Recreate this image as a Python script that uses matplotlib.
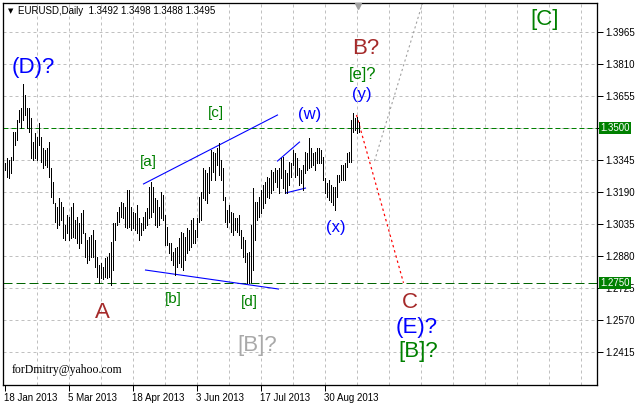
import matplotlib
matplotlib.use('Agg')
import matplotlib.pyplot as plt
import matplotlib.transforms as mtransforms

plt.rcParams['font.family'] = ['Liberation Sans', 'DejaVu Sans']

# ------------------------------------------------------------------
# EURUSD daily bars, 18 Jan 2013 .. 24 Sep 2013
# ------------------------------------------------------------------
highs = [
    1.3330, 1.3355, 1.3345, 1.3360, 1.3481, 1.3481, 1.3539, 1.3587, 1.3597, 1.3713,
    1.3660, 1.3597, 1.3597, 1.3548, 1.3432, 1.3476, 1.3456, 1.3524, 1.3456, 1.3403,
    1.3393, 1.3403, 1.3432, 1.3306, 1.3238, 1.3137, 1.3117, 1.3161, 1.3142, 1.3117,
    1.3030, 1.3079, 1.3069, 1.3117, 1.3137, 1.3054, 1.3069, 1.3040, 1.3088, 1.3103,
    1.2991, 1.2957, 1.2972, 1.2982, 1.3006, 1.2957, 1.2875, 1.2836, 1.2846, 1.2827,
    1.2870, 1.2875, 1.2894, 1.2948, 1.3040, 1.3040, 1.3093, 1.3117, 1.3142, 1.3137,
    1.3117, 1.3200, 1.3200, 1.3117, 1.3093, 1.3088, 1.3127, 1.3064, 1.3040, 1.3069,
    1.3093, 1.3112, 1.3214, 1.3238, 1.3214, 1.3161, 1.3151, 1.3117, 1.3190, 1.3175,
    1.3079, 1.3020, 1.2943, 1.2943, 1.2899, 1.2919, 1.2924, 1.2967, 1.2996, 1.2991,
    1.2972, 1.3016, 1.3006, 1.3054, 1.3064, 1.3006, 1.3064, 1.3166, 1.3190, 1.3306,
    1.3297, 1.3282, 1.3311, 1.3393, 1.3384, 1.3379, 1.3403, 1.3427, 1.3345, 1.3306,
    1.3166, 1.3103, 1.3127, 1.3093, 1.3088, 1.3064, 1.3064, 1.3079, 1.3006, 1.2972,
    1.2957, 1.2894, 1.2899, 1.3030, 1.3209, 1.3142, 1.3142, 1.3166, 1.3200, 1.3224,
    1.3238, 1.3263, 1.3258, 1.3297, 1.3287, 1.3306, 1.3297, 1.3306, 1.3355, 1.3360,
    1.3297, 1.3282, 1.3335, 1.3330, 1.3393, 1.3379, 1.3355, 1.3306, 1.3297, 1.3321,
    1.3384, 1.3379, 1.3452, 1.3403, 1.3379, 1.3384, 1.3403, 1.3403, 1.3393, 1.3360,
    1.3258, 1.3234, 1.3248, 1.3224, 1.3214, 1.3214, 1.3272, 1.3272, 1.3321, 1.3321,
    1.3330, 1.3379, 1.3384, 1.3539, 1.3573, 1.3548, 1.3553, 1.3529,
]
lows = [
    1.3297, 1.3263, 1.3258, 1.3282, 1.3345, 1.3418, 1.3442, 1.3529, 1.3500, 1.3539,
    1.3563, 1.3500, 1.3481, 1.3355, 1.3345, 1.3355, 1.3345, 1.3418, 1.3335, 1.3306,
    1.3321, 1.3311, 1.3263, 1.3166, 1.3137, 1.3045, 1.3016, 1.3030, 1.3054, 1.2967,
    1.2957, 1.2991, 1.2957, 1.2967, 1.2972, 1.2967, 1.2943, 1.2919, 1.2943, 1.2991,
    1.2875, 1.2846, 1.2861, 1.2875, 1.2875, 1.2827, 1.2778, 1.2749, 1.2773, 1.2769,
    1.2778, 1.2773, 1.2778, 1.2740, 1.2812, 1.2957, 1.3030, 1.3045, 1.3069, 1.3064,
    1.3020, 1.3016, 1.3020, 1.3006, 1.3016, 1.3006, 1.2991, 1.2957, 1.2982, 1.3006,
    1.3016, 1.3030, 1.3064, 1.3069, 1.3093, 1.3030, 1.3020, 1.3030, 1.3064, 1.3054,
    1.2933, 1.2933, 1.2894, 1.2861, 1.2836, 1.2788, 1.2827, 1.2846, 1.2827, 1.2812,
    1.2861, 1.2894, 1.2909, 1.2924, 1.2943, 1.2943, 1.2972, 1.3045, 1.3054, 1.3161,
    1.3151, 1.3137, 1.3185, 1.3248, 1.3287, 1.3248, 1.3321, 1.3272, 1.3248, 1.3151,
    1.3045, 1.3020, 1.3045, 1.2996, 1.2982, 1.3006, 1.2996, 1.2982, 1.2919, 1.2875,
    1.2851, 1.2749, 1.2749, 1.2754, 1.2812, 1.2957, 1.3054, 1.3069, 1.3088, 1.3112,
    1.3137, 1.3166, 1.3161, 1.3185, 1.3200, 1.3238, 1.3214, 1.3185, 1.3258, 1.3209,
    1.3185, 1.3185, 1.3224, 1.3263, 1.3321, 1.3263, 1.3272, 1.3224, 1.3234, 1.3200,
    1.3282, 1.3297, 1.3306, 1.3311, 1.3321, 1.3297, 1.3330, 1.3330, 1.3330, 1.3248,
    1.3185, 1.3166, 1.3151, 1.3142, 1.3127, 1.3103, 1.3166, 1.3238, 1.3248, 1.3248,
    1.3248, 1.3311, 1.3335, 1.3335, 1.3481, 1.3490, 1.3476, 1.3481,
]

date_ticks = [0, 32, 64, 96, 128, 160]
date_labels = ['18 Jan 2013', '5 Mar 2013', '18 Apr 2013', '3 Jun 2013',
               '17 Jul 2013', '30 Aug 2013']
price_ticks = [1.3965, 1.3810, 1.3655, 1.3500, 1.3345, 1.3190, 1.3035,
               1.2880, 1.2725, 1.2570, 1.2415]
level_green = 1.3500
level_low = 1.2750
header = 'EURUSD,Daily  1.3492 1.3498 1.3488 1.3495'

# trend lines / forecast paths as (bar, price) pairs
upper_line = [(69.5, 1.3229), (136.5, 1.3563)]
lower_line = [(70.5, 1.2812), (137.0, 1.2720)]
flag_upper = [(136.5, 1.3340), (147.5, 1.3432)]
flag_lower = [(140.5, 1.3185), (150.5, 1.3209)]
red_path = [(176.0, 1.3563), (199.5, 1.2750)]
gray_path = [(185.0, 1.3340), (210.0, 1.4137)]

# wave labels: text, pixel x, pixel y, colour, size
BLUE, GREEN, BROWN, GRAY = '#0000FF', '#008000', '#A52A2A', '#A9A9A9'
wave_labels = [
    ('(D)?', 33, 67, BLUE, 16),
    ('[a]', 148, 162, GREEN, 11),
    ('[b]', 173, 299, GREEN, 11),
    ('[c]', 216, 113, GREEN, 11),
    ('[d]', 249, 302, GREEN, 11),
    ('(w)', 310, 115, BLUE, 12),
    ('(x)', 336, 227, BLUE, 12),
    ('(y)', 362, 94, BLUE, 12),
    ('[e]?', 363, 74, GREEN, 12),
    ('B?', 366, 48, BROWN, 16),
    ('[C]', 545, 20, GREEN, 16),
    ('C', 410, 302, BROWN, 16),
    ('(E)?', 417, 327, BLUE, 16),
    ('[B]?', 418, 352, GREEN, 16),
    ('[B]?', 257, 345, GRAY, 16),
    ('A', 102, 313, BROWN, 16),
]

# ------------------------------------------------------------------
W, H = 635, 404
LEFT, RIGHT, TOP, BOTTOM = 3, 597, 3, 385
PX = 0.72  # one pixel in points at dpi 100

fig = plt.figure(figsize=(W / 100, H / 100), dpi=100)
fig.patch.set_facecolor('white')
ax = fig.add_axes([LEFT / W, (H - BOTTOM) / H, (RIGHT - LEFT) / W, (BOTTOM - TOP) / H])
# 2 px per bar, bars sit on pixel centres
ax.set_xlim(-0.75, 296.25)
ax.set_ylim(1.22551, 1.41055)

# grid
for b in range(16, 297, 16):
    ax.axvline(b, color='#C0C0C0', lw=PX, ls=(0, (3, 3)), zorder=0)
for p in price_ticks:
    ax.axhline(p, color='#C0C0C0', lw=PX, ls=(0, (3, 3)), zorder=0)

# level lines
ax.axhline(level_green, color='#008000', lw=PX, ls=(0, (5, 3)), zorder=1)
ax.axhline(level_low, color='#006400', lw=PX, ls=(0, (9, 4)), zorder=1)

# bars (high-low sticks, 1 px wide)
idx = list(range(len(highs)))
ax.vlines(idx, lows, highs, colors='black', lw=PX, zorder=3, antialiased=False)

# trend lines
for seg in (upper_line, lower_line, flag_upper, flag_lower):
    ax.plot([s[0] for s in seg], [s[1] for s in seg], color=BLUE, lw=PX * 1.1, zorder=2)
ax.plot([s[0] for s in red_path], [s[1] for s in red_path], color='red',
        lw=PX * 1.2, ls=(0, (2, 2.5)), zorder=2)
ax.plot([s[0] for s in gray_path], [s[1] for s in gray_path], color='#A0A0A0',
        lw=PX * 1.1, ls=(0, (2, 2.5)), zorder=2)

# axes styling
for s in ax.spines.values():
    s.set_linewidth(PX * 1.3)
    s.set_color('black')
ax.yaxis.tick_right()
ax.set_yticks(price_ticks)
# the 1.3500 label sits under the green price box, so leave it blank
ax.set_yticklabels(['' if p == level_green else f'{p:.4f}' for p in price_ticks])
ax.tick_params(axis='y', direction='out', length=4, width=PX, pad=2, labelsize=7)
ax.set_xticks(date_ticks)
ax.set_xticklabels(date_labels)
for t in ax.get_xticklabels():
    t.set_ha('left')
ax.tick_params(axis='x', direction='out', length=4, width=PX, pad=1.5, labelsize=7)

# price boxes on the right axis
trans = mtransforms.blended_transform_factory(ax.transAxes, ax.transData)
for lv in (level_green, level_low):
    ax.text(1.0 + 3 / (RIGHT - LEFT), lv, f'{lv:.4f}', transform=trans, ha='left',
            va='center', color='white', fontsize=7, zorder=5, clip_on=False,
            bbox=dict(boxstyle='square,pad=0.12', fc='#008000', ec='none'))

# chart shift marker
ax.plot([176.75], [1.4091], marker='v', color='#A0A0A0', ms=5, zorder=4, clip_on=False)

# header
fig.text(8 / W, 1 - 11 / H, '\u25BC', fontsize=5, color='black', va='center',
         family='DejaVu Sans')
fig.text(18 / W, 1 - 11 / H, header, fontsize=7, color='black', va='center')

# wave labels
for txt, x, y, col, fs in wave_labels:
    fig.text(x / W, 1 - y / H, txt, color=col, fontsize=fs, ha='center', va='center')

fig.text(12 / W, 1 - 370 / H, 'forDmitry@yahoo.com', fontsize=8.5, color='black',
         family='Liberation Serif', va='center')

fig.savefig('out.png', dpi=100)
